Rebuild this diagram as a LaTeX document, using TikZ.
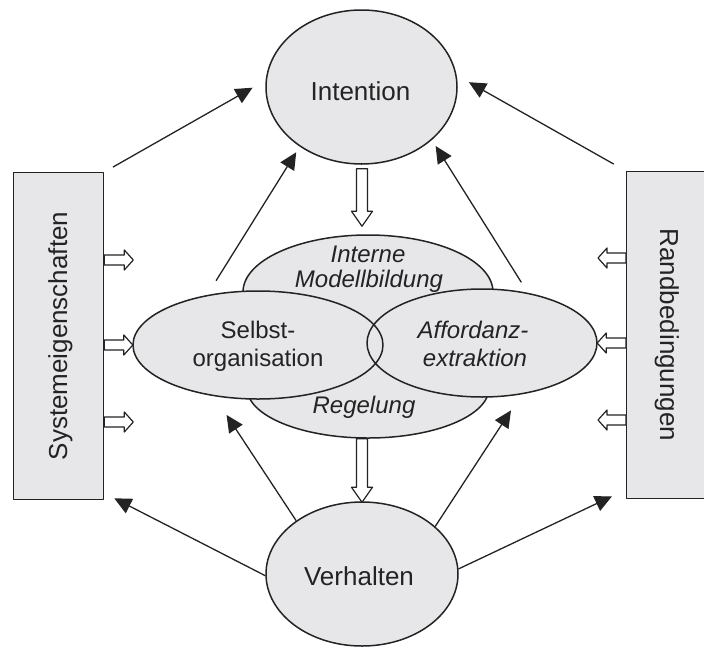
\documentclass[tikz,border=0pt]{standalone}
\usepackage{fontspec}
\setmainfont{Liberation Sans}
\usetikzlibrary{shapes.geometric,arrows.meta,calc}
\definecolor{shade}{RGB}{231,231,234}
\definecolor{ink}{RGB}{35,35,35}
% hollow block arrow: #1 head length, #2 half shaft, #3 half head, #4 from, #5 to
\newcommand\harrow[5]{%
  \coordinate (ha) at (#4);
  \coordinate (hb) at (#5);
  \coordinate (hc) at ($(hb)!#1pt!(ha)$);
  \draw[hollowarrow] ($(ha)!#2pt!90:(hb)$) -- ($(hc)!#2pt!90:(hb)$) -- ($(hc)!#3pt!90:(hb)$) -- (hb)
    -- ($(hc)!#3pt!-90:(hb)$) -- ($(hc)!#2pt!-90:(hb)$) -- ($(ha)!#2pt!-90:(hb)$) -- cycle;}
\begin{document}
\begin{tikzpicture}[x=1pt,y=-1pt,line join=round,
  box/.style={draw=ink,line width=1.3pt,fill=shade,rectangle,inner sep=0pt},
  oval/.style={ellipse,draw=ink,line width=1.5pt,fill=shade,inner sep=0pt},
  ovalfill/.style={ellipse,fill=shade,inner sep=0pt},
  ovalline/.style={draw=ink,line width=1.5pt},
  big/.style={font=\fontsize{26}{30}\selectfont,text=ink,inner sep=0pt},
  mid/.style={font=\fontsize{24}{28}\selectfont,text=ink,inner sep=0pt},
  midit/.style={font=\fontsize{24}{28}\selectfont\itshape,text=ink,inner sep=0pt},
  arr/.style={draw=ink,line width=1.3pt,-{Triangle[length=17pt,width=16pt]}},
  hollowarrow/.style={draw=ink,line width=1.2pt,fill=white}]

\useasboundingbox (0,0) rectangle (704,646);
\clip (0,0) rectangle (704,646);

% side boxes
\node[box,minimum width=90pt,minimum height=327pt,anchor=north west] (sys) at (13,172) {};
\node[box,minimum width=100pt,minimum height=327pt,anchor=north west] (rand) at (626,171) {};

% top and bottom ellipses
\node[oval,minimum width=191pt,minimum height=154pt] (int) at (361.5,87) {};
\node[oval,minimum width=192pt,minimum height=144pt] (verh) at (362,574) {};

% central cluster
\node[oval,minimum width=250pt,minimum height=114pt] (intern) at (368,292) {};
\node[oval,minimum width=242pt,minimum height=100pt] (reg) at (368,388) {};
\node[ovalfill,minimum width=250pt,minimum height=108pt] (selb) at (258,345) {};
\node[ovalfill,minimum width=230pt,minimum height=108pt] (aff) at (482,343) {};
\draw[ovalline] (selb.center) ellipse [x radius=125pt,y radius=54pt];
\draw[ovalline] (aff.center) ellipse [x radius=115pt,y radius=54pt];

% texts
\node[big,anchor=base] (tint) at (360.5,100) {Intention};
\node[big,anchor=base] (tverh) at (359,585) {Verhalten};
\node[big,anchor=base,rotate=90] (tsys) at (67,336) {Systemeigenschaften};
\node[big,anchor=base,rotate=-90] (trand) at (660,335) {Randbedingungen};
\node[midit,anchor=base] (tintern1) at (368,262) {Interne};
\node[midit,anchor=base] (tintern2) at (369,287) {Modellbildung};
\node[mid,anchor=base] (tselb1) at (258,338) {Selbst-};
\node[mid,anchor=base] (tselb2) at (258,366) {organisation};
\node[midit,anchor=base] (taff1) at (473,338) {Affordanz-};
\node[midit,anchor=base] (taff2) at (475,366) {extraktion};
\node[midit,anchor=base] (treg) at (364,413) {Regelung};

% arrows towards Intention
\draw[arr,shorten <=10pt,shorten >=15pt] (sys.north east) -- (int.176);
\draw[arr,shorten <=17.5pt,shorten >=6.6pt] (selb.136.2) -- (int.224.5);
\draw[arr,shorten <=14pt,shorten >=14pt] (rand.north west) -- (int.7.3);
\draw[arr,shorten <=13pt,shorten >=7pt] (aff.47.8) -- (int.323.5);

% arrows from Verhalten
\draw[arr] (verh.181) -- ($(sys.south east)+(10,-2)$);
\draw[arr,shorten >=23pt] (verh.141.5) -- (selb.229.5);
\draw[arr,shorten >=19.7pt] (verh.33.2) -- (aff.308.9);
\draw[arr] (verh.3.6) -- ($(rand.south west)+(-14,-3)$);

% hollow block arrows
\harrow{15}{5.5}{10.5}{$(int.south)+(0.5,4)$}{$(int.south |- intern.north)+(0.5,-8)$}
\harrow{15}{5.5}{10.5}{$(int.south |- reg.south)+(0.5,0)$}{$(verh.north)+(0,1)$}

\harrow{9}{5}{10}{$(sys.north east)+(0,88)$}{$(sys.north east)+(29,88)$}
\harrow{9}{5}{10}{sys.east |- selb.west}{selb.west}
\harrow{9}{5}{10}{$(sys.north east)+(0,250)$}{$(sys.north east)+(29,250)$}

\harrow{9}{5}{10}{$(rand.north west)+(0,87)$}{$(rand.north west)+(-28,87)$}
\harrow{9}{5}{10}{rand.west |- aff.east}{aff.east}
\harrow{9}{5}{10}{$(rand.north west)+(0,249)$}{$(rand.north west)+(-28,249)$}
\end{tikzpicture}
\end{document}
